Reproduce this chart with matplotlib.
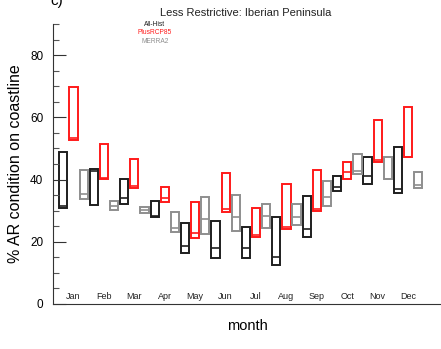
import matplotlib
matplotlib.use("Agg")
import matplotlib.pyplot as plt
from matplotlib.patches import Rectangle
from matplotlib.ticker import MultipleLocator

plt.rcParams['font.family'] = ['Liberation Sans', 'DejaVu Sans']

months = ["Jan", "Feb", "Mar", "Apr", "May", "Jun",
          "Jul", "Aug", "Sep", "Oct", "Nov", "Dec"]

# Each series: (low, middle, high) per month, in % of coastline
hist_low = [30.8, 31.9, 32.2, 28.1, 16.3, 14.9, 14.7, 12.5, 21.6, 36.4, 38.6, 35.8]
hist_mid = [31.4, 42.8, 34.0, 28.4, 18.6, 17.9, 18.1, 15.2, 24.1, 37.5, 41.3, 37.0]
hist_high = [49.0, 43.3, 40.2, 33.2, 26.1, 26.7, 24.7, 27.9, 34.8, 41.3, 47.2, 50.6]

rcp_low = [52.7, 40.3, 37.2, 32.9, 21.1, 29.6, 21.4, 24.0, 29.9, 40.3, 45.8, 47.1]
rcp_mid = [53.5, 40.6, 37.9, 34.2, 22.7, 30.4, 22.2, 24.9, 30.6, 42.5, 46.3, 47.4]
rcp_high = [69.7, 51.3, 46.5, 37.5, 32.9, 42.0, 30.7, 38.6, 43.1, 45.8, 59.2, 63.4]

merra_low = [33.8, 30.3, 29.4, 23.2, 22.4, 23.6, 24.3, 25.4, 31.6, 41.8, 40.1, 37.2]
merra_mid = [35.4, 31.6, 30.2, 24.3, 27.3, 28.1, 28.3, 28.1, 34.3, 42.8, 40.3, 38.1]
merra_high = [43.1, 33.0, 31.1, 29.7, 34.5, 35.0, 32.0, 32.2, 39.5, 48.2, 47.1, 42.3]

series = [
    ("All-Hist", "#1e1e1e", -1 / 3, hist_low, hist_mid, hist_high),
    ("PlusRCP85", "#ff1a1a", 0.0, rcp_low, rcp_mid, rcp_high),
    ("MERRA2", "#8e8e8e", 1 / 3, merra_low, merra_mid, merra_high),
]

W, H = 441, 349
fig = plt.figure(figsize=(W / 100, H / 100), dpi=100)
ax = fig.add_axes([53 / W, (H - 304) / H, (W - 53) / W, (304 - 24) / H])

box_w = 0.27
for name, color, off, lo, mid, hi in series:
    for i in range(len(months)):
        x = i + 1 + off
        ax.add_patch(Rectangle((x - box_w / 2, lo[i]), box_w, hi[i] - lo[i],
                               fill=False, edgecolor=color, lw=1.4))
        ax.plot([x - box_w / 2, x + box_w / 2], [mid[i], mid[i]],
                color=color, lw=1.2, solid_capstyle='butt')

for i, m in enumerate(months):
    ax.text(i + 1, 0.9, m, ha='center', va='bottom', fontsize=6.5, color='#222222')

ax.set_xlim(0.326, 13.08)
ax.set_ylim(0, 90)
ax.spines['top'].set_visible(False)
ax.spines['right'].set_visible(False)
ax.spines['left'].set_color('#333333')
ax.spines['bottom'].set_color('#333333')
ax.set_xticks([])
ax.set_yticks([0, 20, 40, 60, 80])
ax.yaxis.set_minor_locator(MultipleLocator(5))
ax.tick_params(axis='y', which='major', direction='in', length=9.5, width=0.8,
               color='#333333', labelsize=8.5, pad=7)
ax.tick_params(axis='y', which='minor', direction='in', length=4.5, width=0.8,
               color='#555555')

ax.set_xlabel("month", fontsize=10.5, labelpad=11)
ax.set_ylabel("% AR condition on coastline", fontsize=11.5, va='center')
ax.yaxis.set_label_coords((15.5 - 53) / (W - 53), 0.502)

fig.text(246 / W, 1 - 13 / H, "Less Restrictive: Iberian Peninsula",
         ha='center', va='center', fontsize=8, color='#222222')
fig.text(50 / W, 1 - 5 / H, "c)", ha='left', va='baseline', fontsize=11)

for k, (name, color, *_rest) in enumerate(series):
    fig.text(155 / W, 1 - (24.5 + 8.3 * k) / H, name, ha='center', va='center',
             fontsize=4.8, color=color)

fig.savefig("out.png", dpi=100)
